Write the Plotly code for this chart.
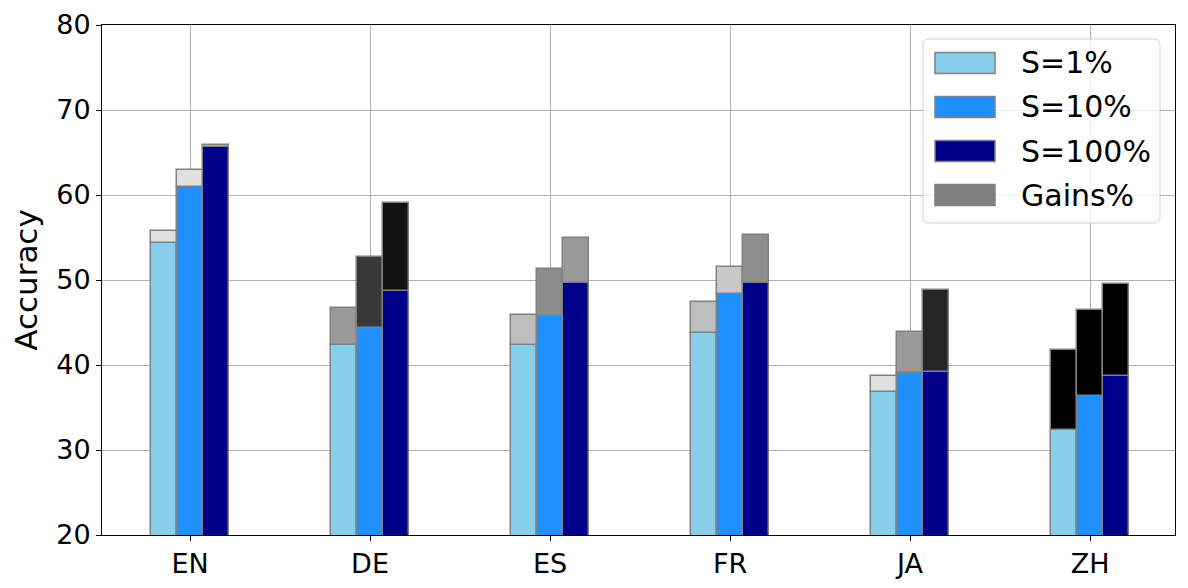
import plotly.graph_objects as go

categories = ["EN", "DE", "ES", "FR", "JA", "ZH"]
series_names = ["S=1%", "S=10%", "S=100%"]
base_s1 = [54.4, 42.3, 42.3, 43.8, 36.8, 32.3]
base_s10 = [60.9, 44.3, 45.8, 48.3, 39.1, 36.4]
base_s100 = [65.6, 48.7, 49.6, 49.7, 39.2, 38.7]
top_s1 = [55.8, 46.7, 45.9, 47.4, 38.7, 41.8]
top_s10 = [62.9, 52.7, 51.3, 51.5, 43.9, 46.5]
top_s100 = [65.9, 59.1, 54.9, 55.3, 48.8, 49.5]
y_ticks = [20, 30, 40, 50, 60, 70, 80]

# styles
series_colors = ["#87CEEB", "#1E90FF", "#00008B"]
gain_colors = [
    ["#e0e0e0", "#999999", "#bdbdbd", "#bdbdbd", "#e0e0e0", "#000000"],
    ["#e0e0e0", "#383838", "#8c8c8c", "#c8c8c8", "#999999", "#000000"],
    ["#d0d0d0", "#111111", "#999999", "#8f8f8f", "#252525", "#000000"],
]
edge = "#808080"
bw = 0.144
offsets = [-bw, 0.0, bw]

fig = go.Figure()
xs = list(range(len(categories)))
bases = [base_s1, base_s10, base_s100]
tops = [top_s1, top_s10, top_s100]
for i in range(3):
    fig.add_trace(go.Bar(
        x=[x + offsets[i] for x in xs], y=bases[i], width=bw,
        marker=dict(color=series_colors[i], line=dict(color=edge, width=1.5)),
        name=series_names[i], showlegend=False,
    ))
for i in range(3):
    gains = [t - b for t, b in zip(tops[i], bases[i])]
    fig.add_trace(go.Bar(
        x=[x + offsets[i] for x in xs], y=gains, base=bases[i], width=bw,
        marker=dict(color=gain_colors[i], line=dict(color=edge, width=1.5)),
        name="Gains%", showlegend=False,
    ))

# page body has an 8px margin; compensate so the plot area lands at these screen coords
OFF = 8
L, R, T, B = 102, 1175, 25, 535
FW, FH = 1188 - OFF, 588 - OFF
W, H = R - L, B - T
px = lambda v: (v - L) / W
py = lambda v: (B - v) / H
shapes = []
x0, x1, y0, y1, r = 923, 1160, 39, 223, 6
path = (f"M {px(x0+r)},{py(y0)} L {px(x1-r)},{py(y0)} Q {px(x1)},{py(y0)} {px(x1)},{py(y0+r)} "
        f"L {px(x1)},{py(y1-r)} Q {px(x1)},{py(y1)} {px(x1-r)},{py(y1)} "
        f"L {px(x0+r)},{py(y1)} Q {px(x0)},{py(y1)} {px(x0)},{py(y1-r)} "
        f"L {px(x0)},{py(y0+r)} Q {px(x0)},{py(y0)} {px(x0+r)},{py(y0)} Z")
shapes.append(dict(type="path", path=path, xref="paper", yref="paper",
                   fillcolor="rgba(255,255,255,0.8)", line=dict(color="#d0d0d0", width=1)))
legend_labels = series_names + ["Gains%"]
legend_fill = series_colors + ["#808080"]
legend_edge = [edge, edge, edge, "#808080"]
annotations = []
for k, (lab, fc, ec) in enumerate(zip(legend_labels, legend_fill, legend_edge)):
    cy = 63 + k * 44
    shapes.append(dict(type="rect", xref="paper", yref="paper",
                       x0=px(935), x1=px(995), y0=py(cy - 10.5), y1=py(cy + 10.5),
                       fillcolor=fc, line=dict(color=ec, width=1.5)))
    annotations.append(dict(x=px(1019), y=py(cy), xref="paper", yref="paper",
                            text=lab, showarrow=False, xanchor="left", yanchor="middle",
                            font=dict(size=30, color="black", family="DejaVu Sans")))

fig.update_layout(
    width=FW, height=FH,
    margin=dict(l=L - OFF, r=FW + OFF - R, t=T - OFF, b=FH + OFF - B),
    plot_bgcolor="white", paper_bgcolor="white",
    font=dict(family="DejaVu Sans", size=27, color="black"),
    barmode="overlay", bargap=0,
    shapes=shapes, annotations=annotations,
    xaxis=dict(range=[-0.489, 5.472], tickvals=xs, ticktext=categories,
               showgrid=True, gridcolor="#b0b0b0", gridwidth=1,
               showline=True, linecolor="black", linewidth=1, mirror=True,
               ticks="outside", ticklen=5, tickcolor="black", zeroline=False,
               automargin=False, tickfont=dict(size=27)),
    yaxis=dict(range=[20, 80], tickvals=y_ticks,
               showgrid=True, gridcolor="#b0b0b0", gridwidth=1,
               showline=True, linecolor="black", linewidth=1, mirror=True,
               ticks="outside", ticklen=5, tickcolor="black", zeroline=False,
               automargin=False,
               title=dict(text="Accuracy", font=dict(size=31), standoff=12),
               tickfont=dict(size=27)),
)
fig.write_html("out.html")
